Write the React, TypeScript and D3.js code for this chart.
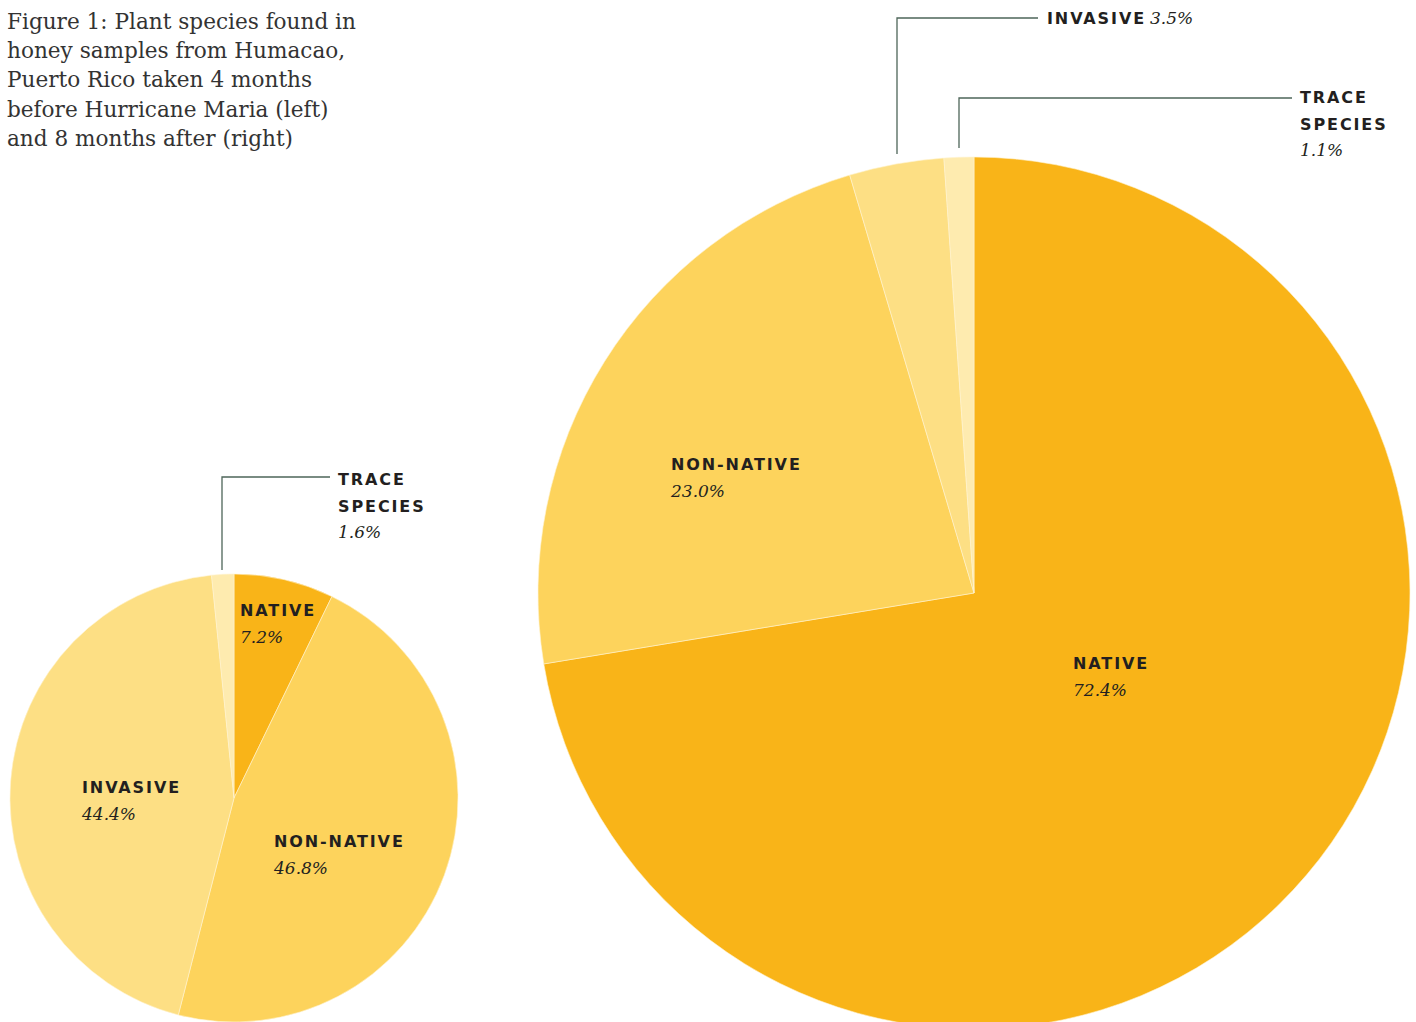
import React from "react";
import * as d3 from "d3";

const categories = ["Native", "Non-native", "Invasive", "Trace species"];
const beforeValues = [7.2, 46.8, 44.4, 1.6];
const afterValues = [72.4, 23.0, 3.5, 1.1];
const colors = ["#F9B418", "#FDD35C", "#FDDF84", "#FEEBAF"];
const titleLines = [
  "Figure 1: Plant species found in",
  "honey samples from Humacao,",
  "Puerto Rico taken 4 months",
  "before Hurricane Maria (left)",
  "and 8 months after (right)",
];

const W = 1416;
const H = 1022;
const labelFont = "'DejaVu Sans', 'Noto Sans', sans-serif";
const pctFont = "'DejaVu Serif', 'Liberation Serif', serif";
const ink = "#231F20";
const leader = "#4E6659";

function Pie({ values, cx, cy, r }: { values: number[]; cx: number; cy: number; r: number }) {
  const pie = d3.pie<number>().sort(null).value((d) => d);
  const arcs = pie(values);
  const arc = d3.arc<d3.PieArcDatum<number>>().innerRadius(0).outerRadius(r);
  return (
    <g transform={`translate(${cx},${cy})`}>
      {arcs.map((a, i) => (
        <path key={i} d={arc(a) || ""} fill={colors[i]} stroke="#FFF3D0" strokeWidth={0.6} />
      ))}
    </g>
  );
}

function Label({ x, y, lines, pct, inline }: { x: number; y: number; lines: string[]; pct: string; inline?: boolean }) {
  const lh = 26.5;
  return (
    <g>
      {lines.map((l, i) => (
        <text key={i} x={x} y={y + i * lh} fontFamily={labelFont} fontWeight="bold" fontSize={16} letterSpacing={1.9} fill={ink}>
          {l}
          {inline ? (
            <tspan fontFamily={pctFont} fontStyle="italic" fontWeight="normal" fontSize={17} letterSpacing={0} dx={4}>
              {pct}
            </tspan>
          ) : null}
        </text>
      ))}
      {!inline ? (
        <text x={x} y={y + lines.length * lh} fontFamily={pctFont} fontStyle="italic" fontSize={17} fill={ink}>
          {pct}
        </text>
      ) : null}
    </g>
  );
}

export default function App() {
  const fmt = (v: number) => v.toFixed(1) + "%";
  return (
    <svg width={W} height={H} style={{ position: "absolute", left: 0, top: 0, background: "#fff" }}>
      {titleLines.map((t, i) => (
        <text key={i} x={7} y={29 + i * 29.2} fontFamily={pctFont} fontSize={21.6} fill="#333">
          {t}
        </text>
      ))}
      <Pie values={beforeValues} cx={234} cy={798} r={224} />
      <Pie values={afterValues} cx={974} cy={593} r={436} />

      {/* leaders */}
      <polyline points="222,570 222,477 330,477" fill="none" stroke={leader} strokeWidth={1.3} />
      <polyline points="897,154 897,18 1038,18" fill="none" stroke={leader} strokeWidth={1.3} />
      <polyline points="959,148 959,98 1292,98" fill="none" stroke={leader} strokeWidth={1.3} />

      {/* left pie labels */}
      <Label x={338} y={485} lines={["TRACE", "SPECIES"]} pct={fmt(beforeValues[3])} />
      <Label x={240} y={616} lines={["NATIVE"]} pct={fmt(beforeValues[0])} />
      <Label x={82} y={793} lines={["INVASIVE"]} pct={fmt(beforeValues[2])} />
      <Label x={274} y={847} lines={["NON-NATIVE"]} pct={fmt(beforeValues[1])} />

      {/* right pie labels */}
      <Label x={1047} y={24} lines={["INVASIVE"]} pct={fmt(afterValues[2])} inline />
      <Label x={1300} y={103} lines={["TRACE", "SPECIES"]} pct={fmt(afterValues[3])} />
      <Label x={671} y={470} lines={["NON-NATIVE"]} pct={fmt(afterValues[1])} />
      <Label x={1073} y={669} lines={["NATIVE"]} pct={fmt(afterValues[0])} />
    </svg>
  );
}
